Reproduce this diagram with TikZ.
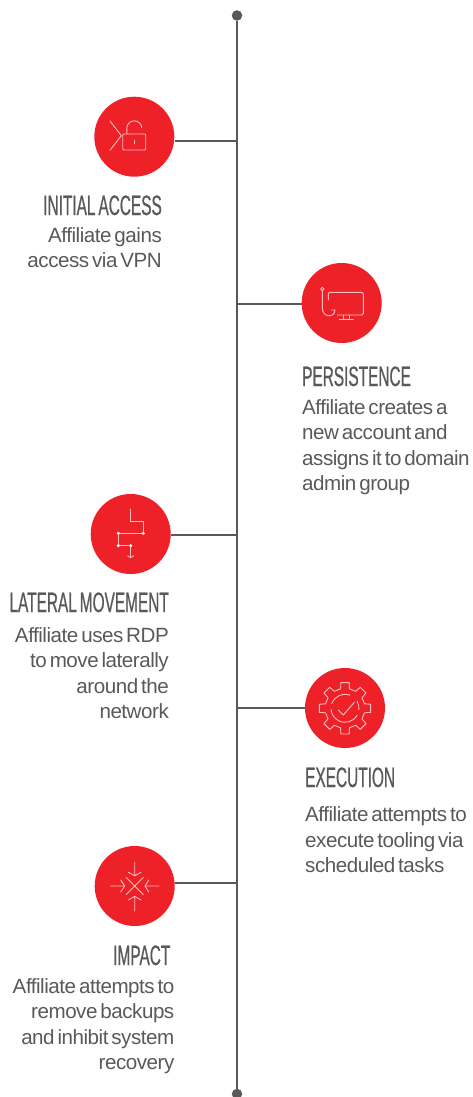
\documentclass[tikz,border=0pt]{standalone}
\usepackage{fontspec}
\setmainfont{Liberation Sans}
\newfontfamily\headfont[FakeStretch=0.55,FakeBold=0.6,WordSpace=0.7]{Liberation Sans}
\newfontfamily\bodyfont[LetterSpace=-2.3,WordSpace=0.55]{Liberation Sans}
\definecolor{trunk}{HTML}{58595B}
\definecolor{hot}{HTML}{EE2028}
\definecolor{iconline}{HTML}{F9BFC1}
\tikzset{
  badge/.style={circle,fill=hot,draw=none,minimum size=80pt,inner sep=0pt},
  branch/.style={draw=trunk,line width=2.2pt},
  spine/.style={draw=trunk,line width=2.8pt},
  endcap/.style={circle,fill=trunk,draw=none,minimum size=10.5pt,inner sep=0pt},
  icon/.style={draw=iconline,line width=0.9pt,line join=round,line cap=round},
  bright/.style={circle,fill=white,draw=none,minimum size=3.4pt,inner sep=0pt},
  headL/.style={anchor=base west,inner sep=0pt,text=trunk,font=\headfont\fontsize{28}{28}\selectfont},
  headR/.style={anchor=base east,inner sep=0pt,text=trunk,font=\headfont\fontsize{28}{28}\selectfont},
  bodyL/.style={anchor=north west,inner sep=0pt,align=left,text=trunk,font=\bodyfont\fontsize{20.6}{25.5}\selectfont},
  bodyR/.style={anchor=north east,inner sep=0pt,align=right,text=trunk,font=\bodyfont\fontsize{20.6}{25.5}\selectfont},
}
\begin{document}
\begin{tikzpicture}[x=1pt,y=-1pt]
\useasboundingbox (0,0) rectangle (473,1097);
\node[endcap] (top) at (237,15.5) {};
\node[endcap] (bot) at (237,1094) {};
\draw[spine] (top) -- (bot);
\coordinate (t1) at (237,141);
\coordinate (t2) at (237,304);
\coordinate (t3) at (237,535);
\coordinate (t4) at (237,708);
\coordinate (t5) at (237,883);
\node[badge] (c1) at (134.3,136.7) {};
\node[badge] (c2) at (341.7,303) {};
\node[badge] (c3) at (130.7,534) {};
\node[badge] (c4) at (345,708) {};
\node[badge] (c5) at (134.7,886) {};
\draw[branch] (t1 -| c1.east) -- (t1);
\draw[branch] (t2 -| c2.west) -- (t2);
\draw[branch] (t3 -| c3.east) -- (t3);
\draw[branch] (t4 -| c4.west) -- (t4);
\draw[branch] (t5 -| c5.east) -- (t5);
% icon 1
\draw[icon] (110,121) -- (121.3,135.7) -- (110,150.3);
\draw[icon,rounded corners=1pt] (122.7,134) rectangle (145.7,150);
\draw[icon] (126.8,134) -- (126.8,128.3) arc[start angle=180,end angle=355,radius=7.5];
\draw[icon] (134.3,140) -- (134.3,144);
% icon 2
\draw[icon] (322.3,289) circle[radius=1.7];
\draw[icon] (322.3,290.7) -- (322.3,308) .. controls (322.3,318) and (335,318) .. (335,310) -- (331.5,310);
\draw[icon,rounded corners=1.5pt] (328.3,300) -- (328.3,292.3) -- (363.3,292.3) -- (363.3,315) -- (337.3,315);
\draw[icon] (343.3,315) -- (343.3,319) (349.3,315) -- (349.3,319) (339.3,319) -- (353.3,319);
% icon 3
\draw[icon] (130.7,509) -- (130.7,521) -- (143.3,521) -- (143.3,533.3) -- (118.3,533.3) -- (118.3,545.7) -- (130.7,545.7) -- (130.7,556.7);
\draw[icon] (127.7,555.7) -- (130.7,557.7) -- (133.7,555.7);
\node[bright] at (143.3,533.3) {};
\node[bright] at (118.3,533.3) {};
\node[bright] at (118.3,545.7) {};
\node[bright] at (130.7,545.7) {};
% icon 4
\begin{scope}[shift={(345,708.3)}]
\draw[icon] (-13:20) foreach \a in {0,45,...,315} { -- ({\a-13}:20) -- ({\a-9}:26) -- ({\a+9}:26) -- ({\a+13}:20) } -- cycle;
\draw[icon] (-70:14) arc[start angle=-70,end angle=-160,radius=14];
\draw[icon] (5:14) arc[start angle=5,end angle=-30,radius=14];
\draw[icon] (30:14) arc[start angle=30,end angle=175,radius=14];
\draw[icon] (-6.7,1.7) -- (-1.7,6.7) -- (9.3,-6);
\end{scope}
% icon 5
\begin{scope}[shift={(134.7,886)}]
\draw[icon] (-8.5,-8.5) -- (8.5,8.5) (8.5,-8.5) -- (-8.5,8.5);
\draw[icon] (0,-24) -- (0,-10.3) (-6.3,-13.7) -- (0,-10.3) -- (6.3,-13.7);
\draw[icon] (0,25) -- (0,10.3) (-6.3,14) -- (0,10.3) -- (6.3,14);
\draw[icon] (-24.3,0) -- (-10.3,0) (-14,-6) -- (-10,0) -- (-14,6);
\draw[icon] (24.3,0) -- (10.3,0) (14,-6) -- (10.3,0) -- (14,6);
\end{scope}
% text
\node[headR] (h1) at (162,215) {INITIAL ACCESS};
\node[bodyR] (b1) at (162,227) {Affiliate gains\\access via VPN};
\node[headL] (h2) at (302,386) {PERSISTENCE};
\node[bodyL] (b2) at (302,399) {Affiliate creates a\\new account and\\assigns it to domain\\admin group};
\node[headR] (h3) at (169,612) {LATERAL MOVEMENT};
\node[bodyR] (b3) at (169,627) {Affiliate uses RDP\\to move laterally\\around the\\network};
\node[headL] (h4) at (305,787) {EXECUTION};
\node[bodyL] (b4) at (305,806.5) {Affiliate attempts to\\execute tooling via\\scheduled tasks};
\node[headR] (h5) at (170.5,965) {IMPACT};
\node[bodyR] (b5) at (174.5,978) {Affiliate attempts to\\remove backups\\and inhibit system\\recovery};
\end{tikzpicture}
\end{document}
